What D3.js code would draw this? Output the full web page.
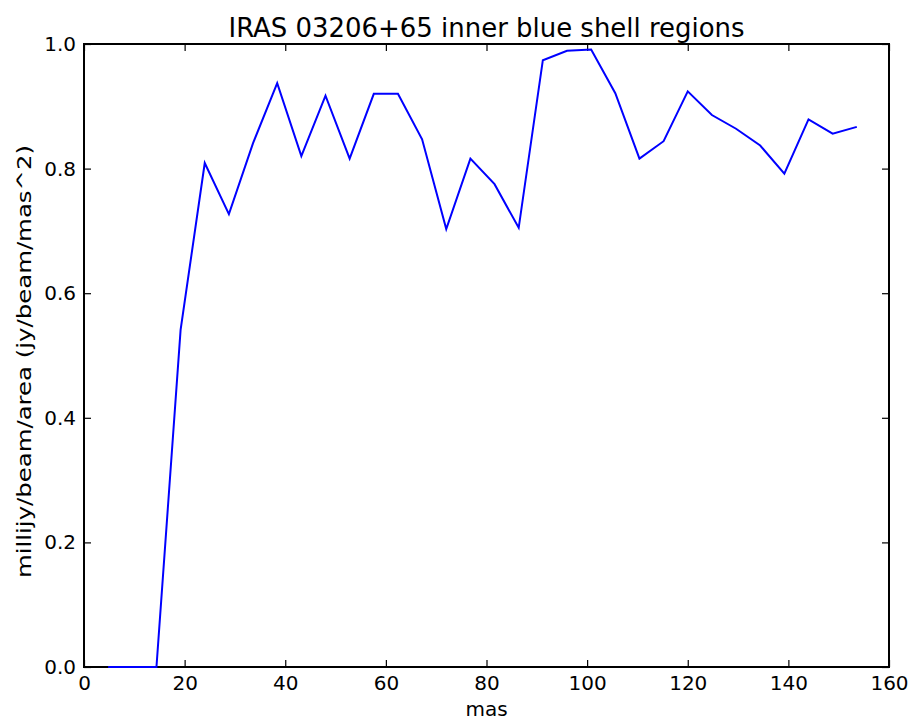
<!DOCTYPE html>
<html>
<head>
<meta charset="utf-8">
<script src="https://cdn.jsdelivr.net/npm/d3@7"></script>
<style>
	body { margin: 0; background: #fff; }
	text { font-family: 'DejaVu Sans', sans-serif; fill: #000; }
</style>
</head>
<body>
<div id="chart"></div>
<script>
// Radial profile values (mas vs flux per area)
var masValues = [4.8, 9.6, 14.4, 19.2, 24.0, 28.8, 33.6, 38.4, 43.2, 48.0, 52.8, 57.6, 62.4, 67.2, 72.0, 76.8,
	81.6, 86.4, 91.2, 96.0, 100.8, 105.6, 110.4, 115.2, 120.0, 124.8, 129.6, 134.4, 139.2, 144.0, 148.8, 153.6];
var fluxValues = [0, 0, 0, 0.541, 0.809, 0.727, 0.841, 0.937, 0.820, 0.917, 0.816, 0.920, 0.920, 0.847, 0.703, 0.816,
	0.775, 0.705, 0.974, 0.989, 0.991, 0.921, 0.816, 0.844, 0.924, 0.886, 0.864, 0.837, 0.792, 0.879, 0.856, 0.867];
var xTicks = [0, 20, 40, 60, 80, 100, 120, 140, 160];
var yTicks = [0, 0.2, 0.4, 0.6, 0.8, 1.0];

var svgWidth = 912;
var svgHeight = 722;
var margin = { top: 44, right: 23, bottom: 55, left: 84 };
var width = svgWidth - margin.left - margin.right;
var height = svgHeight - margin.top - margin.bottom;

var svg = d3.select('#chart').append('svg').attr('width', svgWidth).attr('height', svgHeight);
var chartGroup = svg.append('g').attr('transform', `translate(${margin.left}, ${margin.top})`);

var xScale = d3.scaleLinear().domain([0, 160]).range([0, width]);
var yScale = d3.scaleLinear().domain([0, 1]).range([height, 0]);

// Axes with inward ticks on all four sides
var tickLen = 7;
var bottomAxis = d3.axisBottom(xScale).tickValues(xTicks).tickSizeInner(-tickLen).tickSizeOuter(0).tickPadding(9).tickFormat(d3.format('d'));
var topAxis = d3.axisTop(xScale).tickValues(xTicks).tickSizeInner(-tickLen).tickSizeOuter(0).tickFormat('');
var leftAxis = d3.axisLeft(yScale).tickValues(yTicks).tickSizeInner(-tickLen).tickSizeOuter(0).tickPadding(8).tickFormat(d3.format('.1f'));
var rightAxis = d3.axisRight(yScale).tickValues(yTicks).tickSizeInner(-tickLen).tickSizeOuter(0).tickFormat('');

function styleAxis(g) {
	g.select('.domain').remove();
	g.selectAll('.tick line').attr('stroke', '#000').attr('stroke-width', 1.2);
	g.selectAll('.tick text').attr('font-size', '20px').attr('font-family', "'DejaVu Sans', sans-serif");
}

chartGroup.append('g').attr('transform', `translate(0, ${height})`).call(bottomAxis).call(styleAxis);
chartGroup.append('g').call(topAxis).call(styleAxis);
chartGroup.append('g').call(leftAxis).call(styleAxis);
chartGroup.append('g').attr('transform', `translate(${width}, 0)`).call(rightAxis).call(styleAxis);

// Frame
chartGroup.append('rect')
	.attr('width', width)
	.attr('height', height)
	.attr('fill', 'none')
	.attr('stroke', '#000')
	.attr('stroke-width', 2);

// Data line (drawn over the frame so the zero stretch stays visible)
var line = d3.line().x((d, i) => xScale(masValues[i])).y((d) => yScale(d));
chartGroup.append('path')
	.datum(fluxValues)
	.attr('d', line)
	.attr('fill', 'none')
	.attr('stroke', '#0000ff')
	.attr('stroke-width', 2);

// Title and labels
svg.append('text')
	.attr('x', margin.left + width / 2)
	.attr('y', 37)
	.attr('text-anchor', 'middle')
	.attr('font-size', '26px')
	.attr('textLength', 516)
	.attr('lengthAdjust', 'spacingAndGlyphs')
	.text('IRAS 03206+65 inner blue shell regions');

svg.append('text')
	.attr('x', margin.left + width / 2)
	.attr('y', 716)
	.attr('text-anchor', 'middle')
	.attr('font-size', '20px')
	.text('mas');

svg.append('text')
	.attr('transform', `translate(31, ${margin.top + height / 2 + 6}) rotate(-90)`)
	.attr('text-anchor', 'middle')
	.attr('font-size', '20px')
	.attr('textLength', 433)
	.attr('lengthAdjust', 'spacingAndGlyphs')
	.text('millijy/beam/area (jy/beam/mas^2)');
</script>
</body>
</html>
